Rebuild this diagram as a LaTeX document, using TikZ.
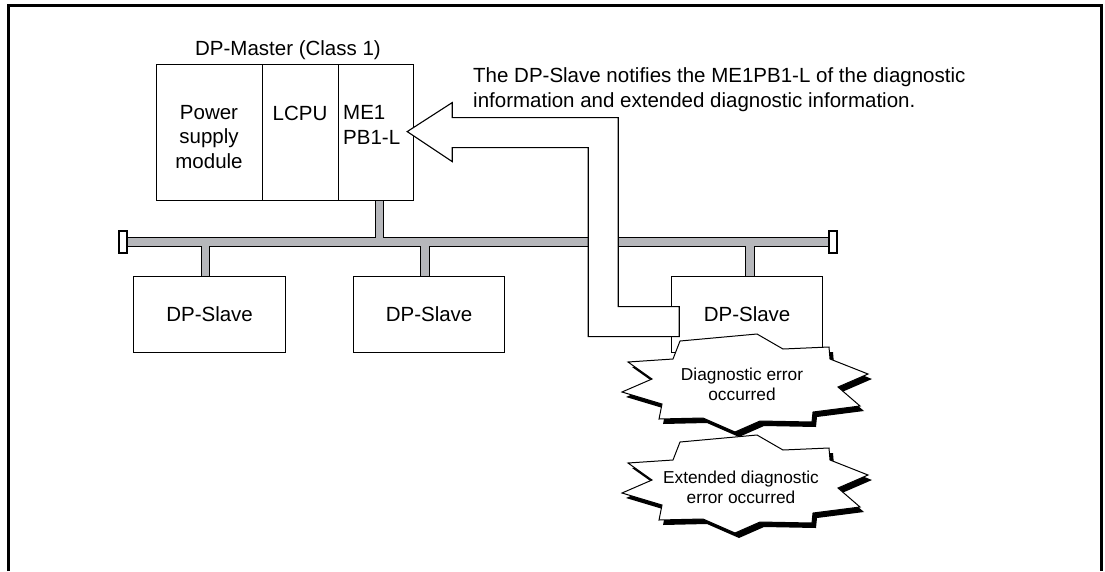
\documentclass[tikz,border=0pt]{standalone}
\usepackage{fontspec}
\setmainfont{Liberation Sans}
\usetikzlibrary{calc}
\definecolor{busgray}{RGB}{182,183,187}
\begin{document}
\begin{tikzpicture}[x=1pt,y=-1pt,
  box/.style={draw, line width=1.2pt, fill=white, inner sep=0pt, anchor=north west},
  txt/.style={inner sep=0pt, font=\fontsize{20.5}{24.5}\selectfont},
  small/.style={inner sep=0pt, font=\fontsize{17.3}{20}\selectfont, align=center, anchor=base},
  busline/.style={draw=black, line width=2.4pt},
  busfill/.style={fill=busgray},
  endcap/.style={draw, line width=1.2pt, fill=white},
  starburst/.pic={
    \fill[black, shift={(4,5)}] (12,-49) -- (38,-34) -- (84,-36) -- (85,-24) -- (123,-9) -- (93,4) -- (115,23) -- (68,29) -- (67,39) -- (15,38) -- (-10,49) -- (-42,35) -- (-86,36) -- (-83,21) -- (-123,9) -- (-93,-4) -- (-117,-21) -- (-72,-24) -- (-65,-42) -- cycle;
    \draw[fill=white, line width=1pt] (12,-49) -- (38,-34) -- (84,-36) -- (85,-24) -- (123,-9) -- (93,4) -- (115,23) -- (68,29) -- (67,39) -- (15,38) -- (-10,49) -- (-42,35) -- (-86,36) -- (-83,21) -- (-123,9) -- (-93,-4) -- (-117,-21) -- (-72,-24) -- (-65,-42) -- cycle;
  }
]
\useasboundingbox (0,0) rectangle (1105,571);
% frame
\draw[line width=2.8pt] (8.7,571) -- (8.7,5.3) -- (1101.7,5.3) -- (1101.7,571);

% bus: outline pass then fill pass
\path[busline] (127,238) rectangle (829,246);
\path[busline] (376,200) rectangle (383,238);
\path[busline] (202,246) rectangle (209,276);
\path[busline] (421,246) rectangle (429,276);
\path[busline] (746,246) rectangle (754,276);
\path[busfill] (127,238) rectangle (829,246);
\path[busfill] (376,200) rectangle (383,238);
\path[busfill] (202,246) rectangle (209,276);
\path[busfill] (421,246) rectangle (429,276);
\path[busfill] (746,246) rectangle (754,276);
\path[endcap] (119,231) rectangle (127,253);
\path[endcap] (829,231) rectangle (837,253);

% master modules
\node[box, minimum width=106, minimum height=136] (psu) at (156,64) {};
\node[box, minimum width=76, minimum height=136] (lcpu) at (262,64) {};
\node[box, minimum width=75, minimum height=136] (me1) at (338,64) {};

% slaves
\node[box, txt, minimum width=152, minimum height=76] (s1) at (133,276) {DP-Slave};
\node[box, txt, minimum width=151, minimum height=76] (s2) at (353,276) {DP-Slave};
\node[box, txt, minimum width=151, minimum height=76] (s3) at (671,276) {DP-Slave};

% hollow notification arrow from slave 3 to ME1PB1-L
\coordinate (tip) at ($(me1.east)+(-7,-1)$);
\draw[line width=1.1pt, fill=white, line join=miter]
  (tip) -- ++(45,-29) -- ++(0,15) -- ++(166,0) -- ++(0,189) -- ++(61,0)
  -- ++(0,30) -- ++(-91,0) -- ++(0,-189) -- ++(-136,0) -- ++(0,14) -- cycle;

% bursts
\pic at (745,383) {starburst};
\pic at (745,484) {starburst};

% texts (base anchor of a multi-line node = baseline of its last line)
\node[txt, anchor=base] (master) at (288,55) {DP-Master (Class 1)};
\node[txt, anchor=base, align=center] (psuT) at (209,168) {Power\\supply\\module};
\node[txt, anchor=base] (lcpuT) at (300,120) {LCPU};
\node[txt, anchor=base west, align=left] (me1T) at (343,144) {ME1\\PB1-L};
\node[txt, anchor=base west, align=left] (note) at (473,107) {The DP-Slave notifies the ME1PB1-L of the diagnostic\\information and extended diagnostic information.};
\node[small] (b1T) at (742,400) {Diagnostic error\\occurred};
\node[small] (b2T) at (741,503) {Extended diagnostic\\error occurred};
\end{tikzpicture}
\end{document}
